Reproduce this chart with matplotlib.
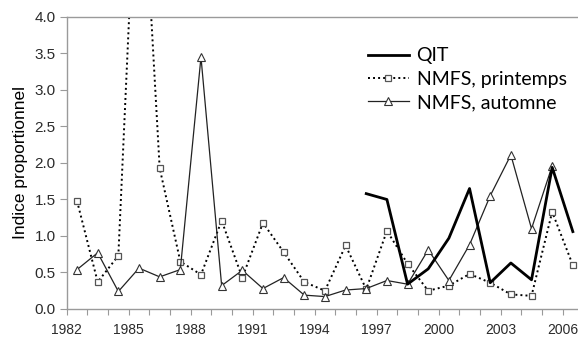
import matplotlib
matplotlib.use("Agg")
import matplotlib.pyplot as plt
import numpy as np

# data (points sit mid-year)
years = list(range(1982, 2007))
printemps = [1.48, 0.37, 0.73, 7.0, 1.93, 0.65, 0.47, 1.21, 0.43, 1.18,
             0.78, 0.37, 0.25, 0.87, 0.27, 1.07, 0.62, 0.25, 0.32, 0.48,
             0.36, 0.20, 0.18, 1.33, 0.60]
automne_years = list(range(1982, 2006))
automne = [0.54, 0.77, 0.24, 0.56, 0.44, 0.54, 3.45, 0.32, 0.53, 0.28,
           0.43, 0.19, 0.17, 0.26, 0.28, 0.39, 0.34, 0.81, 0.39, 0.88,
           1.55, 2.11, 1.10, 1.96]
qit_years = list(range(1996, 2007))
qit = [1.58, 1.50, 0.34, 0.55, 0.97, 1.65, 0.36, 0.63, 0.40, 1.94, 1.06]

x_labels = list(range(1982, 2007, 3))
y_ticks = [0.0, 0.5, 1.0, 1.5, 2.0, 2.5, 3.0, 3.5, 4.0]

axis_grey = "#9a9a9a"
text_grey = "#2b2b2b"

fig = plt.figure(figsize=(5.78, 3.39), dpi=100)
ax = fig.add_axes([0.1154, 0.0885, 0.8846, 0.8615])

ax.plot(np.array(qit_years) + 0.5, qit, color="black", lw=2.0,
        label="QIT", zorder=3)
ax.plot(np.array(years) + 0.5, printemps, color="black", lw=1.4,
        linestyle=(0, (1, 1.6)), marker="s", ms=4.5, mfc="white",
        mec="#555555", mew=0.9, label="NMFS, printemps", zorder=2)
ax.plot(np.array(automne_years) + 0.5, automne, color="#222222", lw=0.9,
        marker="^", ms=5.5, mfc="white", mec="#333333", mew=0.8,
        label="NMFS, automne", zorder=2)

ax.set_xlim(1982, 2006.75)
ax.set_ylim(0, 4.0)
ax.set_xticks(years, minor=True)
ax.set_xticks(x_labels)
ax.set_xticklabels([str(y) for y in x_labels])
ax.set_yticks(y_ticks)
ax.set_yticklabels(["%.1f" % v for v in y_ticks])

ax.tick_params(axis="x", which="both", direction="out", length=4,
               width=0.8, color=axis_grey, pad=6, labelsize=10,
               labelcolor=text_grey)
ax.tick_params(axis="x", which="minor", labelbottom=False)
ax.tick_params(axis="y", direction="out", length=5, width=0.8,
               color=axis_grey, pad=3, labelsize=11, labelcolor=text_grey)
for lab in ax.get_xticklabels() + ax.get_yticklabels():
    lab.set_family("Liberation Sans")

for side in ["left", "bottom", "top"]:
    ax.spines[side].set_color(axis_grey)
    ax.spines[side].set_linewidth(1.0)
ax.spines["right"].set_visible(False)

ax.set_ylabel("Indice proportionnel", family="Liberation Sans",
              fontsize=12.5, color="black", labelpad=5)

ax.legend(loc="upper left", bbox_to_anchor=(0.6367, 0.86),
          bbox_transform=fig.transFigure, frameon=False,
          prop={"family": "Lato", "size": 14}, handlelength=2.1,
          handletextpad=0.4, labelspacing=0.32, borderpad=0,
          borderaxespad=0)

fig.savefig("out.png", dpi=100)
